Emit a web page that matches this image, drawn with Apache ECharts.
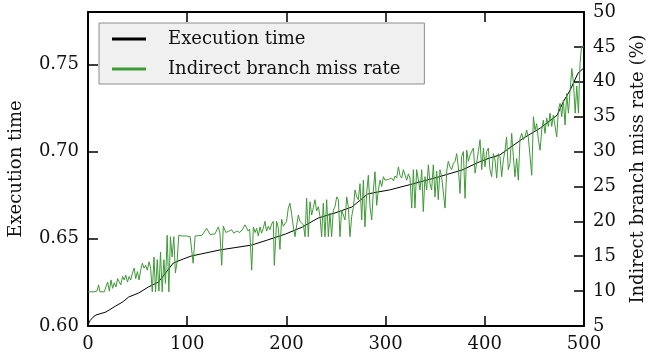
<!DOCTYPE html>
<html>
<head>
<meta charset="utf-8">
<script src="https://cdn.jsdelivr.net/npm/echarts@6/dist/echarts.min.js"></script>
<style>
html,body{margin:0;padding:0;background:#fff;}
#chart{width:650px;height:360px;}
</style>
</head>
<body>
<div id="chart"></div>
<script>
// ---- data ----
var seriesNames = ['Execution time', 'Indirect branch miss rate'];
var xTicks = [0, 100, 200, 300, 400, 500];
var leftTicks = [0.60, 0.65, 0.70, 0.75];
var rightTicks = [5, 10, 15, 20, 25, 30, 35, 40, 45, 50];

// Execution time (left axis) : [x, seconds]
var execTime = [
  [0,0.6006],[2,0.6030],[5,0.6050],[8,0.6063],[18,0.6080],[28,0.6115],[35,0.6138],
  [41,0.6166],[51,0.6189],[61,0.6224],[71,0.6252],[79,0.6310],[86,0.6361],[96,0.6384],
  [104,0.6401],[133,0.6436],[165,0.6464],[181,0.6493],[199,0.6527],[216,0.6567],
  [232,0.6619],[249,0.6648],[266,0.6682],[282,0.6757],[292,0.6768],[304,0.6780],
  [327,0.6814],[353,0.6854],[377,0.6894],[395,0.6942],[405,0.6963],[415,0.6980],
  [439,0.7077],[456,0.7135],[473,0.7209],[479,0.7284],[486,0.7352],[494,0.7450],[500,0.7480]
];

// Indirect branch miss rate (right axis, %) : [x, percent]
var missRate = [
  [0,9.9],[3,9.9],[6,9.9],[9,10.0],[10.7,10.9],[12,9.9],[14,9.9],[16.5,9.9],[18,10.6],[19.8,11.3],
  [21.5,10.0],[23.2,11.6],[24.8,10.4],[26.5,11.2],[28.2,10.6],[29.8,11.8],[31.5,11.6],[33.1,10.9],
  [34.8,12.1],[36.5,11.6],[38.1,12.3],[39.8,11.3],[41.5,12.1],[43.1,11.6],[44.8,12.6],[46.5,13.3],
  [48.1,11.8],[49.8,12.8],[51.5,11.6],[53.1,13.0],[54.8,14.0],[56.5,13.3],[58.1,13.7],[59.8,13.0],
  [61.5,14.2],[63.1,13.3],[64.8,9.9],[66.5,14.9],[68.1,9.9],[69.8,14.5],[71.5,10.0],[73.1,15.6],
  [74.8,9.9],[76.5,14.5],[78.1,11.1],[79.8,18.0],[81.5,9.9],[83.1,17.8],[84.8,14.9],[86.5,17.8],
  [88.1,12.6],[89.8,14.2],[91.5,18.0],[95,17.9],[99,17.9],[103,17.8],[106,14.0],[108,17.9],
  [115,18.0],[119.6,19.0],[123,18.1],[128,18.2],[131.4,19.2],[133,18.3],[134.8,13.7],[136.4,19.3],
  [139,18.4],[142,18.6],[144.8,18.8],[147,18.3],[150,18.6],[153,18.4],[156,18.9],[158.3,19.5],
  [160,19.5],[161.5,18.6],[163,18.9],[165,13.0],[166.7,19.2],[168.5,18.4],[170,19.0],[171.7,17.9],
  [173.4,19.2],[175,18.3],[176.7,19.0],[178.4,20.0],[180,18.6],[181.7,19.3],[183.4,18.8],[185,19.6],
  [186.8,20.0],[187.8,13.7],[190.1,20.0],[191.8,19.1],[193.5,16.0],[195.2,20.3],[196.9,19.3],
  [198.5,19.4],[200.2,20.0],[201.9,21.9],[203.6,22.6],[205.3,21.0],[207,19.2],[208.7,17.8],
  [210.4,19.5],[212,20.9],[213.7,20.0],[215.4,20.2],[217.1,19.5],[218.8,17.8],[220.4,23.3],
  [222.1,17.8],[223.8,22.8],[225.5,20.9],[227.2,22.0],[228.8,23.1],[230.5,21.5],[232.2,22.1],
  [233.9,20.7],[235.5,17.8],[237.2,22.6],[238.9,17.8],[240.6,23.1],[242.3,17.8],[243.9,21.2],
  [245.6,17.8],[247.3,21.6],[249,22.1],[250.7,23.5],[252.4,23.1],[254,17.8],[255.7,21.6],
  [257.4,20.9],[259.1,20.2],[260.8,23.5],[262.4,22.1],[264.1,17.8],[265.8,20.7],[267.5,22.0],
  [269.2,24.5],[270.9,23.5],[272.5,23.1],[274.2,25.4],[275.9,20.2],[277.6,25.9],[279.2,19.2],
  [280.9,24.0],[282.6,26.6],[284.3,22.1],[286,20.2],[287.7,24.5],[289.3,27.1],[291,22.3],
  [292.7,24.5],[294.4,25.9],[296.1,25.0],[297.8,26.4],[299.4,25.9],[301.1,25.7],[302.8,26.0],
  [304.4,26.2],[306.1,26.2],[308,25.8],[309.5,26.5],[311.2,26.2],[312.9,27.8],[314.5,26.6],
  [316.2,26.2],[317.9,27.4],[319.6,27.2],[321.3,25.9],[323,26.8],[324.6,26.2],[326.3,21.9],
  [328,27.4],[329.6,21.9],[331.3,27.4],[333,27.4],[334.7,24.5],[336.4,27.4],[338,21.4],
  [339.7,26.4],[341.4,24.5],[343.1,28.1],[344.8,25.4],[346.4,24.5],[348.1,28.1],[349.8,23.5],
  [351.5,27.2],[353.1,23.1],[354.8,27.4],[356.5,26.4],[358.2,26.4],[359.9,21.9],[361.6,27.2],
  [363.2,28.6],[364.9,27.8],[366.6,27.4],[368.3,28.3],[370,28.6],[371.7,29.7],[373.3,27.8],
  [375,24.0],[376.7,29.3],[378.4,30.0],[380.1,23.3],[381.8,30.2],[383.4,28.6],[385.1,29.5],
  [386.8,29.3],[388.5,30.5],[390.2,26.9],[391.9,28.5],[393.5,30.0],[395.2,31.7],[396.9,27.4],
  [398.6,30.5],[400.2,27.8],[401.9,30.0],[403.6,30.5],[405.2,27.4],[406.9,26.4],[408.6,29.7],
  [410.3,28.8],[412,26.2],[413.6,29.7],[415.3,29.3],[417,26.4],[418.7,28.8],[420.4,30.2],
  [422,32.1],[423.7,27.4],[425.4,28.3],[427.1,32.6],[428.8,29.3],[430.4,26.4],[432.1,29.0],
  [433.8,25.9],[435.5,31.9],[437.2,32.6],[438.9,31.7],[440.5,32.1],[442.2,33.1],[443.9,32.0],
  [445.6,32.1],[447.3,26.6],[449,35.0],[450.6,33.1],[452.3,34.0],[454,31.7],[455.7,30.2],
  [457.4,33.1],[459,34.5],[460.7,32.6],[462.4,34.8],[464.1,33.6],[465.8,35.5],[467.5,33.6],
  [469.1,35.2],[470.8,35.0],[472.5,32.1],[474.2,36.0],[475.9,36.9],[477.6,35.0],[479.2,37.4],
  [480.9,33.8],[482.6,38.3],[484.3,35.5],[486,38.8],[487.7,41.9],[489.4,39.8],[491.1,35.5],
  [492.7,39.4],[494.4,35.5],[496,42.6],[497.5,45.0],[500,45.0]
];

// ---- chart ----
var FONT = 'DejaVu Serif';
var TXT = '#111';
var chart = echarts.init(document.getElementById('chart'), null, {renderer: 'canvas'});

function axisLineStyle() { return {show: true, onZero: false, lineStyle: {color: '#000', width: 2}}; }
function tickStyle() { return {show: true, inside: true, length: 10, lineStyle: {color: '#000', width: 1.5}}; }

chart.setOption({
  animation: false,
  backgroundColor: '#fff',
  grid: {left: 88, right: 66, top: 12, bottom: 34, containLabel: false, outerBoundsMode: 'none'},
  legend: {
    data: seriesNames,
    left: 99, top: 23,
    orient: 'vertical',
    backgroundColor: '#f0f0f0',
    borderColor: '#8c8c8c',
    borderWidth: 1,
    borderRadius: 0,
    padding: [7, 24, 6, 13],
    itemWidth: 34,
    itemHeight: 3,
    itemGap: 12,
    icon: 'rect',
    selectedMode: false,
    textStyle: {fontFamily: FONT, fontSize: 18, color: TXT, padding: [0, 0, 0, 17]}
  },
  xAxis: [{
    type: 'value', min: xTicks[0], max: xTicks[xTicks.length - 1], interval: 100,
    position: 'bottom',
    axisLine: axisLineStyle(), axisTick: tickStyle(), splitLine: {show: false},
    axisLabel: {fontFamily: FONT, fontSize: 18, color: TXT, margin: 9}
  }, {
    type: 'value', min: xTicks[0], max: xTicks[xTicks.length - 1], interval: 100,
    position: 'top',
    axisLine: axisLineStyle(), axisTick: tickStyle(), splitLine: {show: false},
    axisLabel: {show: false}
  }],
  yAxis: [{
    type: 'value', min: 0.60, max: 0.78, interval: 0.05,
    position: 'left',
    name: 'Execution time', nameLocation: 'middle', nameGap: 63,
    nameTextStyle: {fontFamily: FONT, fontSize: 18, color: TXT},
    axisLine: axisLineStyle(), axisTick: tickStyle(), splitLine: {show: false},
    axisLabel: {
      fontFamily: FONT, fontSize: 18, color: TXT, margin: 9, showMaxLabel: false,
      formatter: function (v) {
        for (var i = 0; i < leftTicks.length; i++) {
          if (Math.abs(v - leftTicks[i]) < 1e-6) return leftTicks[i].toFixed(2);
        }
        return '';
      }
    }
  }, {
    type: 'value', min: rightTicks[0], max: rightTicks[rightTicks.length - 1], interval: 5,
    position: 'right',
    name: 'Indirect branch miss rate (%)', nameLocation: 'middle', nameGap: 45, nameRotate: 90,
    nameTextStyle: {fontFamily: FONT, fontSize: 18, color: TXT},
    axisLine: axisLineStyle(), axisTick: tickStyle(), splitLine: {show: false},
    axisLabel: {fontFamily: FONT, fontSize: 18, color: TXT, margin: 9}
  }],
  series: [{
    name: seriesNames[0], type: 'line', xAxisIndex: 0, yAxisIndex: 0,
    data: execTime, showSymbol: false, symbol: 'none', smooth: false,
    color: '#000', lineStyle: {color: '#000', width: 1}, z: 2
  }, {
    name: seriesNames[1], type: 'line', xAxisIndex: 0, yAxisIndex: 1,
    data: missRate, showSymbol: false, symbol: 'none', smooth: false,
    color: '#3d9a35', lineStyle: {color: '#3d9a35', width: 1}, z: 3
  }]
});
</script>
</body>
</html>
